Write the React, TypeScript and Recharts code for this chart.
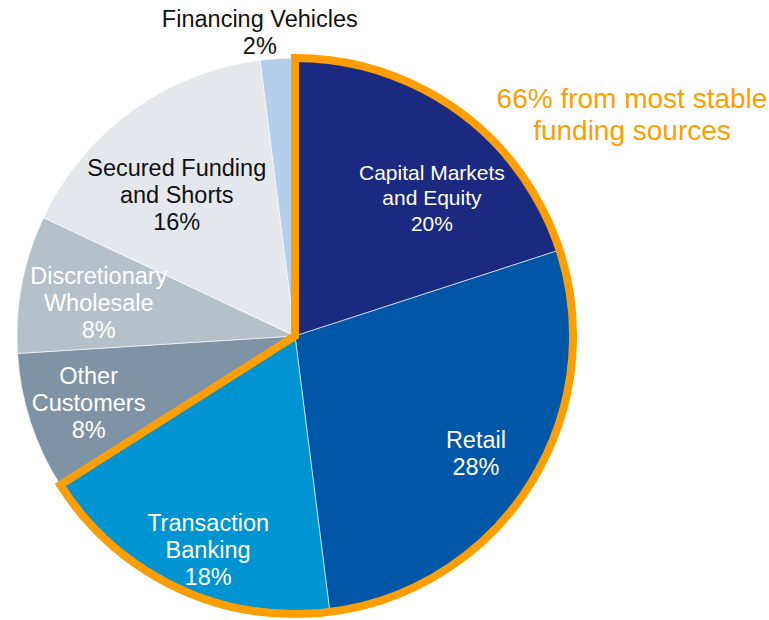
import { PieChart, Pie, Cell } from 'recharts'

const categories = [
  'Capital Markets and Equity',
  'Retail',
  'Transaction Banking',
  'Other Customers',
  'Discretionary Wholesale',
  'Secured Funding and Shorts',
  'Financing Vehicles',
]
const shares = [20, 28, 18, 8, 8, 16, 2]
const labelLines = [
  ['Capital Markets', 'and Equity'],
  ['Retail'],
  ['Transaction', 'Banking'],
  ['Other', 'Customers'],
  ['Discretionary', 'Wholesale'],
  ['Secured Funding', 'and Shorts'],
  ['Financing Vehicles'],
]
const stableGroups = ['Most stable', 'Other']
const stableShares = [66, 34]

const COLORS = ['#1A2A80', '#0056A7', '#0094D3', '#7F93A7', '#B6C0C8', '#E4E8ED', '#B3CFEC']
const LABEL_COLORS = ['#fff', '#fff', '#fff', '#fff', '#fff', '#111', '#111']
const LABEL_RADIUS = [195, 216, 231, 217, 199, 184, 306]
const LABEL_ANGLE_SHIFT = [-8.6, -0.7, 3.1, 0, 1.2, 4, 3]
const LABEL_SIZE = [21, 23.5, 23.5, 23.5, 23.5, 23.5, 23.5]
const ORANGE = '#FF9E00'

const data = categories.map((name, i) => ({ name, value: shares[i] }))
const stableData = stableGroups.map((name, i) => ({ name, value: stableShares[i] }))

const RAD = Math.PI / 180
const FONT = '"Liberation Sans", Arial, sans-serif'

function renderLabel(props: any) {
  const { cx, cy, midAngle, index } = props
  const r = LABEL_RADIUS[index]
  const a = (midAngle + LABEL_ANGLE_SHIFT[index]) * RAD
  const x = cx + r * Math.cos(a)
  const y = cy - r * Math.sin(a)
  const lines = [...labelLines[index], `${shares[index]}%`]
  const lh = index === 0 ? 25.5 : 27
  const top = y - ((lines.length - 1) * lh) / 2
  return (
    <text
      x={x}
      y={top}
      textAnchor="middle"
      dominantBaseline="central"
      fill={LABEL_COLORS[index]}
      fontFamily={FONT}
      fontSize={LABEL_SIZE[index]}
    >
      {lines.map((l, k) => (
        <tspan key={k} x={x} dy={k === 0 ? 0 : lh}>
          {l}
        </tspan>
      ))}
    </text>
  )
}

export default function App() {
  return (
    <div style={{ position: 'absolute', left: 0, top: 0, width: 769, height: 620, background: '#fff' }}>
      <PieChart width={769} height={620} margin={{ top: 0, right: 0, bottom: 0, left: 0 }}>
        <Pie
          data={data}
          dataKey="value"
          cx={295}
          cy={336}
          outerRadius={278}
          startAngle={90}
          endAngle={-270}
          stroke="#ffffff"
          strokeWidth={0.6}
          label={renderLabel}
          labelLine={false}
          isAnimationActive={false}
        >
          {data.map((d, i) => (
            <Cell key={d.name} fill={COLORS[i]} />
          ))}
        </Pie>
        <Pie
          data={stableData}
          dataKey="value"
          cx={295}
          cy={336}
          outerRadius={278}
          startAngle={90}
          endAngle={-270}
          isAnimationActive={false}
        >
          {stableData.map((d, i) => (
            <Cell
              key={d.name}
              fill="none"
              stroke={i === 0 ? ORANGE : 'none'}
              strokeWidth={i === 0 ? 8 : 0}
            />
          ))}
        </Pie>
        <text x={632} y={98} textAnchor="middle" dominantBaseline="central" fill={ORANGE} fontFamily={FONT} fontSize={28}>
          <tspan x={632} dy={0}>66% from most stable</tspan>
          <tspan x={632} dy={32}>funding sources</tspan>
        </text>
      </PieChart>
    </div>
  )
}
